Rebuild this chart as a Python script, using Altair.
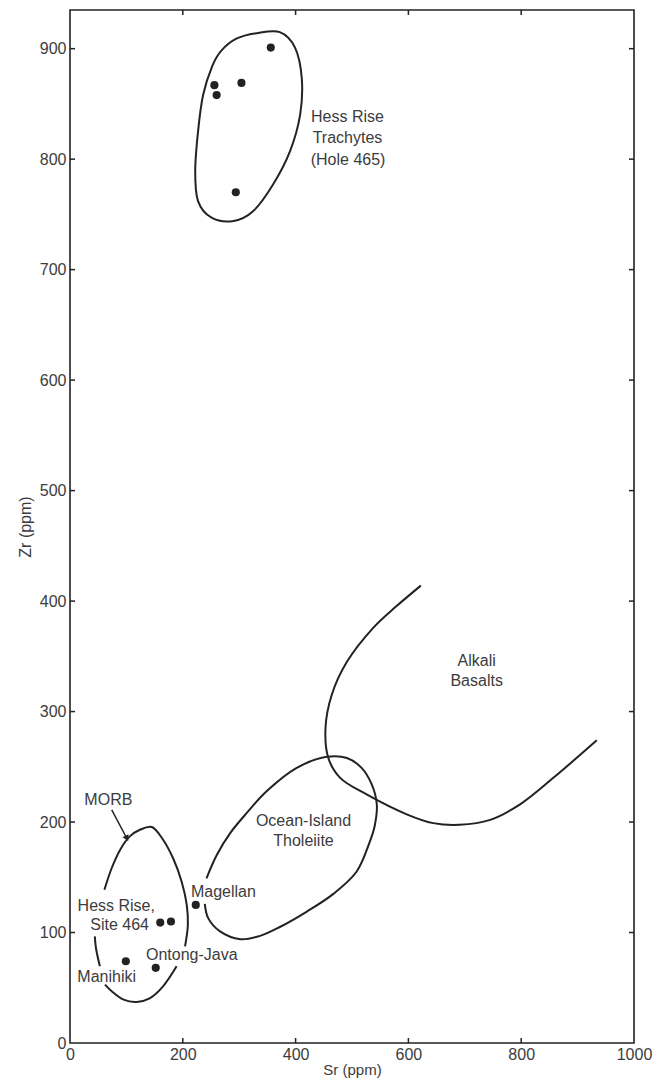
import altair as alt
import pandas as pd

# ---- data ----
# sample points (Sr ppm, Zr ppm)
pt_sr = [356, 256, 260, 304, 294, 223, 160, 179, 99, 152]
pt_zr = [901, 867, 858, 869, 770, 125, 109, 110, 74, 68]

# Hess Rise trachyte field (closed)
tr_sr = [331, 372, 399, 411, 408, 390, 360, 325, 290, 251, 227, 222, 227, 236, 252, 268, 295]
tr_zr = [914, 915, 901, 873, 840, 807, 777, 753, 744, 747, 762, 789, 825, 858, 884, 898, 909]

# MORB field (broken where labels sit)
morb_sr = [61, 74, 89, 106, 124, 145, 165, 183, 198, 207, 209, 204,
           189, 165, 142, 118, 95, 74, 62,
           53, 46, 44]
morb_zr = [138.7, 158.4, 175, 187, 193, 195.5, 184, 167, 146, 125, 107, 87.5,
           69.4, 51.3, 40.7, 37.1, 39.2, 46.8, 52.8,
           69.4, 86, 96.5]
morb_seg = ["a"] * 12 + ["b"] * 7 + ["c"] * 3

# Ocean-island tholeiite field (gap near Magellan label)
oit_sr = [239, 245, 266, 302, 337, 372, 420, 467, 508, 530, 540, 544, 535, 517,
          491, 455, 402, 349, 313, 284, 260, 242]
oit_zr = [126, 113, 101, 94, 97, 105, 119, 135, 155, 180, 196, 216, 234, 249,
          258, 259, 249, 228, 208, 190, 170, 149]

# Alkali basalt boundary (open curve)
alk_sr = [622, 578, 538, 491, 464, 453, 458, 479, 526, 597, 644, 691, 745, 798, 857, 934]
alk_zr = [414, 395, 376, 345, 315, 285, 258, 240, 225, 207, 199, 197.5, 202, 216, 240, 274]

# MORB arrow
arrow_sr = [74, 100]
arrow_zr = [211, 186]

# labels
lab_text = ["MORB", "Hess Rise,", "Site 464", "Manihiki", "Ontong-Java", "Magellan",
            "Ocean-Island", "Tholeiite", "Alkali", "Basalts",
            "Hess Rise", "Trachytes", "(Hole 465)"]
lab_sr = [68, 82, 88, 65, 216, 272, 414, 414, 721, 721, 492, 492, 493]
lab_zr = [220, 124, 107, 60, 80, 137, 201, 182.5, 346, 328, 838, 819, 799]

x_ticks = [0, 200, 400, 600, 800, 1000]
y_ticks = [0, 100, 200, 300, 400, 500, 600, 700, 800, 900]
x_inner = [200, 400, 600, 800]
y_inner = [100, 200, 300, 400, 500, 600, 700, 800, 900]

W, H = 564, 1033
INK = "#222222"
TXT = "#3c3c3c"
FONT = "Liberation Sans"

xs = alt.Scale(domain=[0, 1000], nice=False, zero=False)
ys = alt.Scale(domain=[0, 935], nice=False, zero=False)

df_pts = pd.DataFrame({"sr": pt_sr, "zr": pt_zr})
df_tr = pd.DataFrame({"sr": tr_sr, "zr": tr_zr, "i": range(len(tr_sr))})
df_morb = pd.DataFrame({"sr": morb_sr, "zr": morb_zr, "seg": morb_seg, "i": range(len(morb_sr))})
df_oit = pd.DataFrame({"sr": oit_sr, "zr": oit_zr, "seg": "oit", "i": range(len(oit_sr))})
df_alk = pd.DataFrame({"sr": alk_sr, "zr": alk_zr, "seg": "alk", "i": range(len(alk_sr))})
df_open = pd.concat([df_morb, df_oit.assign(i=df_oit.i + 100), df_alk.assign(i=df_alk.i + 200)])
df_arrow = pd.DataFrame({"sr": arrow_sr, "zr": arrow_zr, "i": [0, 1]})
df_head = pd.DataFrame({"sr": [arrow_sr[-1]], "zr": [arrow_zr[-1]]})
df_lab = pd.DataFrame({"t": lab_text, "sr": lab_sr, "zr": lab_zr})
df_xt = pd.DataFrame({"v": x_inner})
df_yt = pd.DataFrame({"v": y_inner})

X = alt.X("sr:Q", scale=xs, title="Sr (ppm)",
          axis=alt.Axis(values=x_ticks, format="d", labelFlush=False))
Y = alt.Y("zr:Q", scale=ys, title="Zr (ppm)",
          axis=alt.Axis(values=y_ticks, format="d", labelFlush=False))

base_x = alt.X("sr:Q", scale=xs)
base_y = alt.Y("zr:Q", scale=ys)

# inward ticks on all four sides
tick_left = alt.Chart(df_yt).mark_rule(color=INK, strokeWidth=1.5).encode(
    y=alt.Y("v:Q", scale=ys), x=alt.value(0), x2=alt.value(5))
tick_right = alt.Chart(df_yt).mark_rule(color=INK, strokeWidth=1.5).encode(
    y=alt.Y("v:Q", scale=ys), x=alt.value(W - 5), x2=alt.value(W))
tick_bot = alt.Chart(df_xt).mark_rule(color=INK, strokeWidth=1.5).encode(
    x=alt.X("v:Q", scale=xs), y=alt.value(H - 5), y2=alt.value(H))
tick_top = alt.Chart(df_xt).mark_rule(color=INK, strokeWidth=1.5).encode(
    x=alt.X("v:Q", scale=xs), y=alt.value(0), y2=alt.value(5))

trach = alt.Chart(df_tr).mark_line(interpolate="cardinal-closed", color=INK, strokeWidth=2).encode(
    x=X, y=Y, order="i:Q")

curves = alt.Chart(df_open).mark_line(interpolate="catmull-rom", color=INK, strokeWidth=2).encode(
    x=base_x, y=base_y, detail="seg:N", order="i:Q")

arrow = alt.Chart(df_arrow).mark_line(color=INK, strokeWidth=1.5).encode(
    x=base_x, y=base_y, order="i:Q")
head = alt.Chart(df_head).mark_point(shape="triangle", angle=152, size=45, filled=True,
                                      color=INK, opacity=1).encode(x=base_x, y=base_y)

pts = alt.Chart(df_pts).mark_circle(size=66, color=INK, opacity=1).encode(x=base_x, y=base_y)

labels = alt.Chart(df_lab).mark_text(font=FONT, fontSize=16, color=TXT, align="center",
                                     baseline="middle").encode(x=base_x, y=base_y, text="t:N")

chart = alt.layer(
    trach, curves, arrow, head, pts, labels, tick_left, tick_right, tick_bot, tick_top
).properties(
    width=W, height=H,
    autosize=alt.AutoSizeParams(type="none"),
    padding={"left": 62, "top": 2, "right": 22, "bottom": 38},
).configure_view(
    stroke=INK, strokeWidth=1.6
).configure_axis(
    grid=False, domain=False, ticks=False,
    labelFont=FONT, labelFontSize=16, labelColor=TXT,
    titleFont=FONT, titleColor=TXT, titleFontWeight="normal",
).configure_axisX(
    labelPadding=3, titlePadding=0, titleFontSize=15
).configure_axisY(
    labelPadding=4, titlePadding=6, titleFontSize=16
)

chart.save("out.html", embed_options={"renderer": "svg", "actions": False})
